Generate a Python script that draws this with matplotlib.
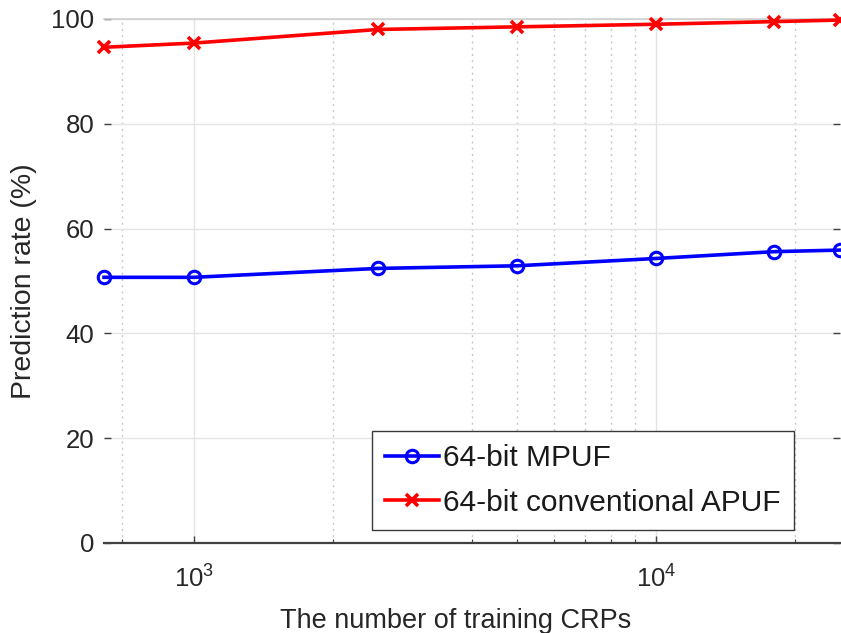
import matplotlib
matplotlib.use('Agg')
import matplotlib.pyplot as plt
from matplotlib.ticker import FixedLocator, NullFormatter

# data
crps = [640, 1000, 2500, 5000, 10000, 18000, 25000]
mpuf_rate = [50.7, 50.7, 52.4, 52.9, 54.3, 55.6, 55.9]
apuf_rate = [94.6, 95.4, 98.0, 98.5, 99.0, 99.5, 99.8]
series_labels = ['64-bit MPUF', '64-bit conventional APUF']
y_ticks = [0, 20, 40, 60, 80, 100]
x_major = [1000, 10000]
x_minor = [700, 2000, 4000, 5000, 6000, 7000, 8000, 9000, 20000]  # only these show in the original

plt.rcParams['font.family'] = ['Liberation Sans', 'DejaVu Sans']
plt.rcParams['mathtext.fontset'] = 'custom'
plt.rcParams['mathtext.rm'] = 'Liberation Sans'
txt_col = '#262626'

fig = plt.figure(figsize=(8.41, 6.33), dpi=100)
ax = fig.add_axes([0.1237, 0.1422, 0.8755, 0.8278])

# curves
ax.plot(crps, mpuf_rate, '-o', color='#0000ff', lw=2.6, ms=9, mfc='none', mew=2.2,
        label=series_labels[0], clip_on=False, zorder=4)
ax.plot(crps, apuf_rate, '-x', color='#ff0000', lw=2.6, ms=8, mew=2.6,
        label=series_labels[1], clip_on=False, zorder=4)

ax.set_xscale('log')
ax.set_xlim(crps[0], crps[-1])
ax.set_ylim(0, 100)
ax.set_yticks(y_ticks)
ax.xaxis.set_major_locator(FixedLocator(x_major))
ax.xaxis.set_minor_locator(FixedLocator(x_minor))
ax.xaxis.set_minor_formatter(NullFormatter())

# matlab-like grid
ax.grid(True, which='major', color='#e4e4e4', lw=1.0, ls='-')
ax.grid(True, which='minor', axis='x', color='#c8c8c8', lw=1.0, ls=(0, (1.5, 3)))
ax.set_axisbelow(True)

# spines and ticks
ax.spines['left'].set_visible(False)
ax.spines['right'].set_visible(False)
ax.spines['top'].set_color('#cfcfcf')
ax.spines['top'].set_linewidth(1.2)
ax.spines['bottom'].set_color('#404040')
ax.spines['bottom'].set_linewidth(1.6)
ax.tick_params(axis='y', which='major', direction='in', length=5, width=1, color='#404040',
               left=True, right=True, labelsize=18.5, labelcolor=txt_col, pad=7)
ax.tick_params(axis='x', which='major', direction='in', length=5, width=1, color='#404040',
               top=False, labelsize=18.5, labelcolor=txt_col, pad=16)
ax.tick_params(axis='x', which='minor', direction='in', length=3, width=0.8, color='#404040', top=False)

ax.set_xlabel('The number of training CRPs', fontsize=19.5, color=txt_col, labelpad=13)
ax.xaxis.set_label_coords(0.478, -0.125)
ax.set_ylabel('Prediction rate (%)', fontsize=20.5, color=txt_col, labelpad=10)

leg = ax.legend(loc='upper left', bbox_to_anchor=(0.364, 0.214), fontsize=21.5,
                frameon=True, fancybox=False, edgecolor='#3a3a3a', framealpha=1,
                handlelength=1.8, handletextpad=0.12, labelspacing=0.55,
                borderpad=0.45, borderaxespad=0)
leg.get_frame().set_linewidth(1.0)
for t in leg.get_texts():
    t.set_color('#1a1a1a')

fig.savefig('out.png', dpi=100)
